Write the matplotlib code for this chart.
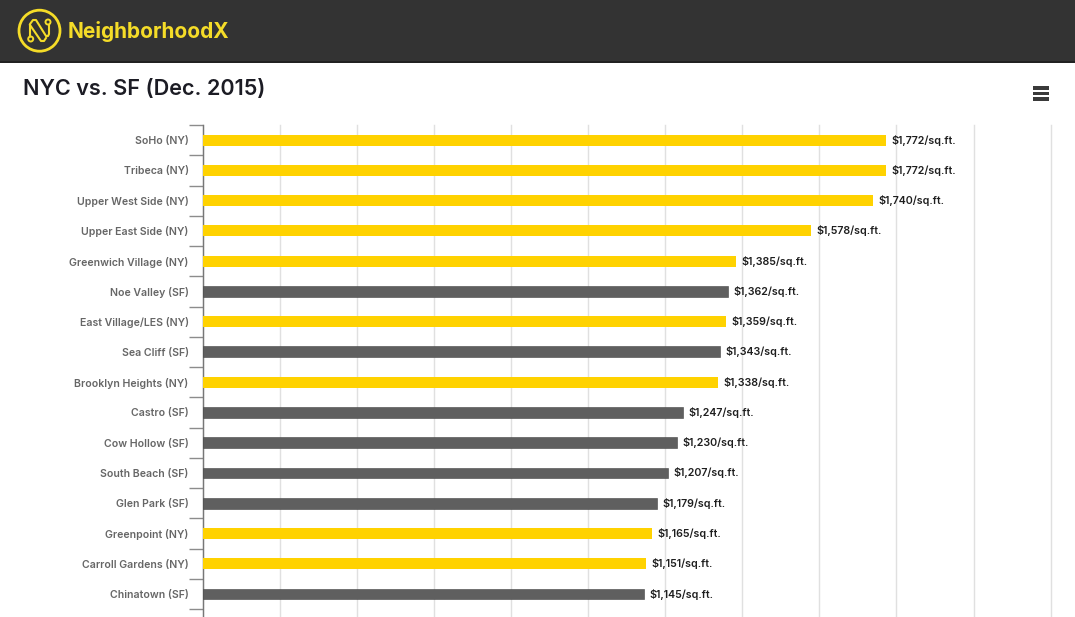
import matplotlib
matplotlib.use('Agg')
import matplotlib.pyplot as plt
import matplotlib.patches as mpatches

neighborhoods = ['SoHo (NY)', 'Tribeca (NY)', 'Upper West Side (NY)', 'Upper East Side (NY)',
                 'Greenwich Village (NY)', 'Noe Valley (SF)', 'East Village/LES (NY)', 'Sea Cliff (SF)',
                 'Brooklyn Heights (NY)', 'Castro (SF)', 'Cow Hollow (SF)', 'South Beach (SF)',
                 'Glen Park (SF)', 'Greenpoint (NY)', 'Carroll Gardens (NY)', 'Chinatown (SF)']
prices = [1772, 1772, 1740, 1578, 1385, 1362, 1359, 1343, 1338, 1247, 1230, 1207, 1179, 1165, 1151, 1145]
grid_ticks = list(range(0, 2400, 200))

YELLOW = '#ffd200'
GREY = '#5f5f5f'
W, H = 1075, 617
plt.rcParams['font.family'] = ['Inter', 'DejaVu Sans']

fig = plt.figure(figsize=(W / 100, H / 100), dpi=100)

# page chrome drawn in pixel coordinates
page = fig.add_axes([0, 0, 1, 1])
page.set_xlim(0, W)
page.set_ylim(H, 0)
page.axis('off')
page.add_patch(mpatches.Rectangle((0, 0), W, 62, color='#333333', lw=0))
page.add_patch(mpatches.Rectangle((0, 61), W, 2, color='#222222', lw=0))
logo = '#f5dc28'
page.add_patch(mpatches.Circle((39.5, 30.7), 20.5, fill=False, ec=logo, lw=2))
page.plot([30, 30, 33, 36, 46, 48, 49, 49], [36.5, 24, 20, 20, 36, 36, 34, 25], color=logo, lw=1.5)
page.plot([30, 41, 44, 46], [25, 41, 41, 38], color=logo, lw=1.5)
for cx, cy in [(30.7, 39), (48, 22)]:
    page.add_patch(mpatches.Circle((cx, cy), 2.5, fill=False, ec=logo, lw=1.4))
page.text(68, 31, 'NeighborhoodX', color=logo, fontsize=15, fontweight='bold', va='center')
page.text(23, 89, 'NYC vs. SF (Dec. 2015)', color='#1c1c24', fontsize=15.55, fontweight='semibold', va='center')
for y in [88, 93.5, 99]:
    page.add_patch(mpatches.Rectangle((1033, y - 1.7), 15.5, 3.4, color='#3a3a3a', lw=0))

# chart area runs off the bottom of the page
ax = fig.add_axes([202.6 / W, 0, (1051 - 203) / W, (H - 125) / H])
ax.patch.set_alpha(0)
colors = [YELLOW if n.endswith('(NY)') else GREY for n in neighborhoods]
edges = ['none' if n.endswith('(NY)') else '#444444' for n in neighborhoods]
ax.barh(range(len(prices)), prices, height=0.36, color=colors, edgecolor=edges, linewidth=0.4, zorder=3)
for i, v in enumerate(prices):
    ax.text(v + 14, i, f'${v:,}/sq.ft.', va='center', ha='left', fontsize=7.7,
            fontweight='semibold', color='#1e1e1e')

ax.set_xlim(0, 2200)
ax.set_ylim(15.76, -0.5)
ax.set_xticks(grid_ticks)
ax.tick_params(axis='x', length=0, labelbottom=False)
ax.grid(axis='x', color='#e0e0e0', lw=1, zorder=0)
for line in ax.get_xgridlines():
    line.set_clip_on(False)
ax.set_yticks(range(len(neighborhoods)))
ax.set_yticklabels(neighborhoods, fontsize=7.6, fontweight='semibold', color='#666666')
ax.tick_params(axis='y', which='major', length=0, pad=10)
ax.set_yticks([i - 0.5 for i in range(len(neighborhoods) + 1)], minor=True)
ax.tick_params(axis='y', which='minor', length=10, width=1, color='#8c8c8c')
for s in ['top', 'right', 'bottom']:
    ax.spines[s].set_visible(False)
ax.spines['left'].set_color('#777777')
ax.spines['left'].set_linewidth(1)

fig.savefig('out.png', dpi=100)
